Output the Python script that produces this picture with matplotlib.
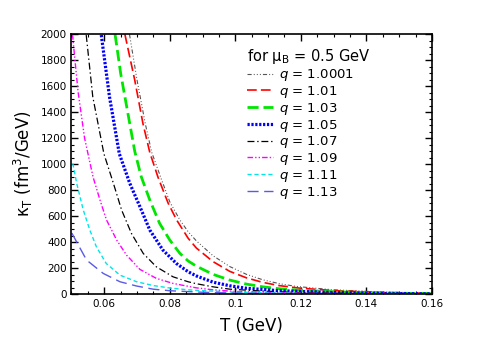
import numpy as np
import matplotlib
matplotlib.use("Agg")
from matplotlib import pyplot as plt
from matplotlib.ticker import MultipleLocator, FuncFormatter

plt.rcParams['font.family'] = ['DejaVu Sans']
plt.rcParams['mathtext.fontset'] = 'dejavusans'
plt.rcParams['lines.scale_dashes'] = False

# kappa_T (fm^3/GeV), one series per q
T_1p0001 = [0.0677, 0.0700, 0.0725, 0.0745, 0.0775, 0.0800, 0.0831, 0.0856, 0.0881, 0.0932, 0.0983, 0.1034, 0.1084, 0.1135, 0.1186, 0.13, 0.145, 0.16]
k_1p0001 = [2000, 1648, 1314, 1090, 880, 710, 570, 480, 410, 295, 212, 152, 110, 80, 59, 33, 16, 8]

T_1p01 = [0.0663, 0.0693, 0.0718, 0.0739, 0.0764, 0.0795, 0.0821, 0.0856, 0.0881, 0.0932, 0.0983, 0.1034, 0.1084, 0.1135, 0.1196, 0.13, 0.145, 0.16]
k_1p01 = [2000, 1648, 1314, 1090, 900, 700, 570, 430, 355, 250, 175, 125, 90, 65, 46, 27, 12, 6]

T_1p03 = [0.0633, 0.0650, 0.0673, 0.0693, 0.0713, 0.0739, 0.0769, 0.0800, 0.0831, 0.0856, 0.0881, 0.0932, 0.0983, 0.1034, 0.1084, 0.1135, 0.1196, 0.13, 0.145, 0.16]
k_1p03 = [2000, 1700, 1380, 1100, 903, 724, 544, 416, 313, 255, 215, 152, 108, 77, 56, 41, 30, 18, 8, 4]

T_1p05 = [0.0591, 0.0616, 0.0646, 0.0678, 0.0709, 0.0739, 0.0779, 0.0820, 0.0856, 0.0881, 0.0932, 0.0983, 0.1034, 0.1135, 0.13, 0.145, 0.16]
k_1p05 = [1994, 1519, 1080, 852, 672, 493, 339, 236, 172, 140, 92, 64, 45, 26, 12, 5, 2]

T_1p07 = [0.0545, 0.0565, 0.0599, 0.0628, 0.0653, 0.0683, 0.0719, 0.0759, 0.0810, 0.0856, 0.0881, 0.0932, 0.0983, 0.1084, 0.12, 0.14, 0.16]
k_1p07 = [1994, 1519, 1080, 852, 647, 467, 313, 210, 133, 95, 80, 56, 38, 23, 12, 4, 1]

T_1p09 = [0.0503, 0.0520, 0.0540, 0.0566, 0.0587, 0.0607, 0.0638, 0.0668, 0.0709, 0.0759, 0.0810, 0.0856, 0.0881, 0.0932, 0.10, 0.12, 0.14, 0.16]
k_1p09 = [2000, 1560, 1200, 900, 724, 570, 416, 300, 190, 121, 82, 60, 48, 33, 20, 7, 2, 1]

T_1p11 = [0.0504, 0.0516, 0.0536, 0.0556, 0.0576, 0.0606, 0.0648, 0.0699, 0.0749, 0.0800, 0.0851, 0.0881, 0.10, 0.12, 0.14, 0.16]
k_1p11 = [1006, 852, 647, 493, 364, 236, 146, 95, 66, 47, 34, 29, 15, 5, 2, 1]

T_1p13 = [0.0501, 0.0546, 0.0597, 0.0648, 0.0699, 0.0749, 0.0800, 0.09, 0.10, 0.12, 0.14, 0.16]
k_1p13 = [470, 262, 159, 95, 62, 38, 26, 14, 8, 3, 1, 0.5]

series = [
    (T_1p0001, k_1p0001, "1.0001", "#555555", 0.8, (0, (3, 1.5, 0.7, 1.5, 0.7, 1.5, 0.7, 1.5))),
    (T_1p01, k_1p01, "1.01", "#ff0000", 1.2, (0, (7, 3))),
    (T_1p03, k_1p03, "1.03", "#00e600", 2.0, (0, (8, 3.5))),
    (T_1p05, k_1p05, "1.05", "#0000ff", 2.3, (0, (1.6, 1.2))),
    (T_1p07, k_1p07, "1.07", "#000000", 0.9, (0, (5, 2, 1, 2))),
    (T_1p09, k_1p09, "1.09", "#ff00ff", 1.0, (0, (4, 1.5, 1, 1.5, 1, 1.5))),
    (T_1p11, k_1p11, "1.11", "#00e6e6", 1.0, (0, (3, 2))),
    (T_1p13, k_1p13, "1.13", "#5a5ae6", 1.0, (0, (8, 4))),
]

fig = plt.figure(figsize=(4.81, 3.46), dpi=100)
ax = fig.add_axes([0.1486, 0.150, 0.7494, 0.751])

for T, k, q, color, lw, ls in series:
    ax.plot(T, k, color=color, linewidth=lw, linestyle=ls,
            label=r"$q$ = " + q)

ax.set_xlim(0.05, 0.16)
ax.set_ylim(0, 2000)
ax.xaxis.set_major_locator(MultipleLocator(0.02))
ax.xaxis.set_minor_locator(MultipleLocator(0.005))
ax.yaxis.set_major_locator(MultipleLocator(200))
ax.yaxis.set_minor_locator(MultipleLocator(50))
ax.xaxis.set_major_formatter(FuncFormatter(lambda v, p: "%g" % round(v, 3)))
ax.tick_params(which='both', direction='in', top=True, right=True, labelsize=7.5)
ax.tick_params(which='major', length=5, width=1)
ax.tick_params(which='minor', length=2.5, width=0.8)
for s in ax.spines.values():
    s.set_linewidth(1.2)

ax.set_xlabel("T (GeV)", fontsize=12, labelpad=6)
ax.set_ylabel("κ$_{\\rm T}$ (fm$^3$/GeV)", fontsize=12, labelpad=4)

leg = ax.legend(loc='upper left', bbox_to_anchor=(0.47, 0.975), frameon=False,
                title="for μ$_{\\rm B}$ = 0.5 GeV", title_fontsize=10.5,
                fontsize=9.5, handlelength=1.9, handletextpad=0.5,
                labelspacing=0.06, borderpad=0, alignment='left')

fig.savefig("out.png", dpi=100)
